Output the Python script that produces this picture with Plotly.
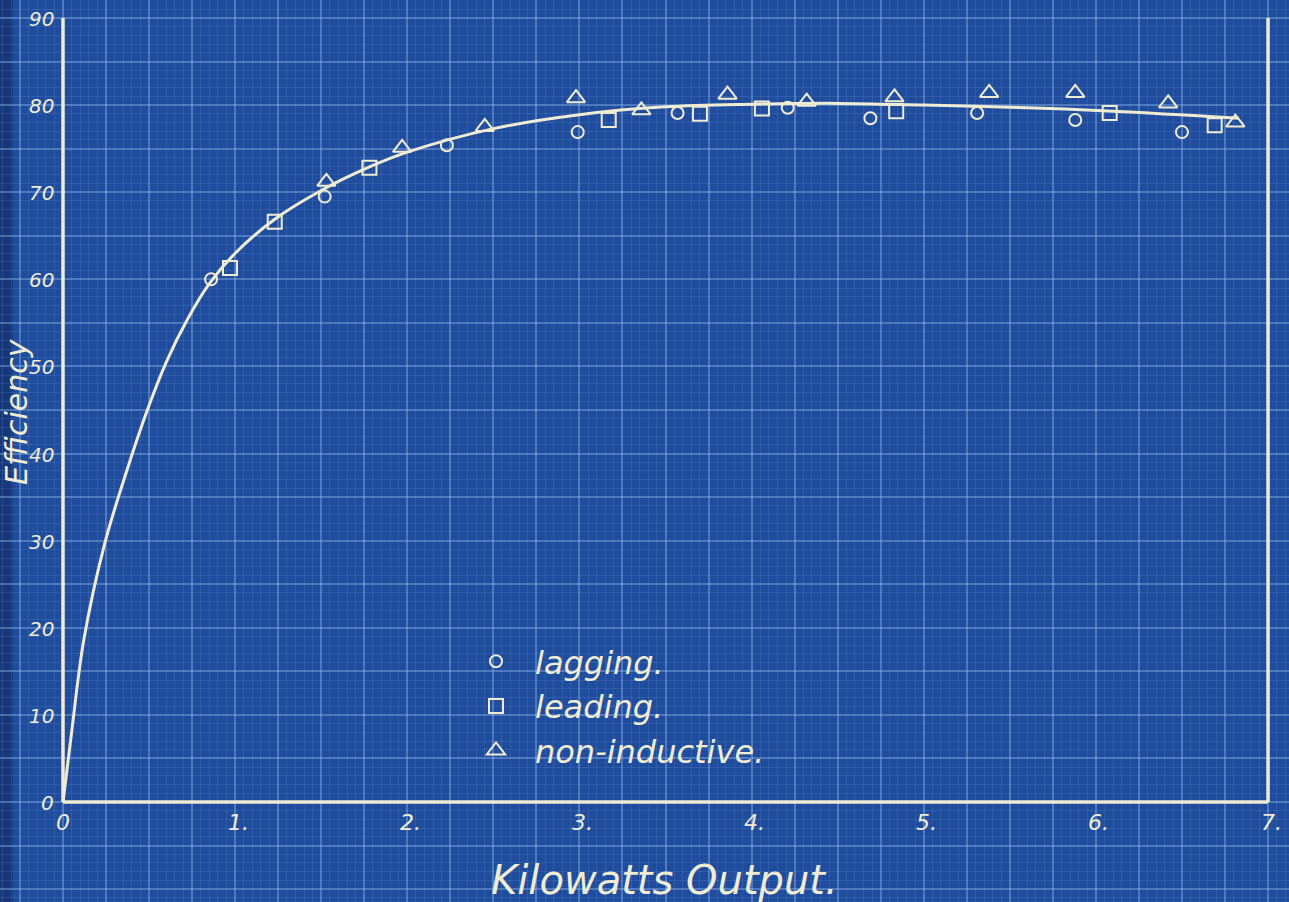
import plotly.graph_objects as go

# ---- data ----
lag_x = [0.86, 1.52, 2.23, 2.99, 3.57, 4.21, 4.69, 5.31, 5.88, 6.50]
lag_y = [60.0, 69.5, 75.4, 76.9, 79.1, 79.7, 78.5, 79.1, 78.3, 76.9]

lead_x = [0.97, 1.23, 1.78, 3.17, 3.70, 4.06, 4.84, 6.08, 6.69]
lead_y = [61.3, 66.6, 72.8, 78.3, 79.0, 79.6, 79.3, 79.1, 77.7]

noni_x = [1.53, 1.97, 2.45, 2.98, 3.36, 3.86, 4.32, 4.83, 5.38, 5.88, 6.42, 6.81]
noni_y = [71.2, 75.1, 77.5, 80.8, 79.4, 81.2, 80.4, 80.9, 81.4, 81.4, 80.2, 78.0]

curve_x = [0.0, 0.05, 0.12, 0.24, 0.37, 0.49, 0.60, 0.72, 0.85, 1.00, 1.23, 1.50,
           1.78, 2.00, 2.50, 3.00, 3.50, 4.00, 4.50, 5.00, 5.60, 6.10, 6.83]
curve_y = [0.0, 8.0, 18.5, 29.5, 38.0, 45.0, 50.5, 55.3, 59.5, 63.0, 66.9, 70.2,
           72.9, 74.6, 77.3, 78.9, 79.8, 80.1, 80.2, 80.0, 79.7, 79.3, 78.5]

x_tick_vals = [0, 1, 2, 3, 4, 5, 6, 7]
x_tick_text = ["0", "1.", "2.", "3.", "4.", "5.", "6.", "7."]
y_tick_vals = [0, 10, 20, 30, 40, 50, 60, 70, 80, 90]
y_tick_text = ["0", "10", "20", "30", "40", "50", "60", "70", "80", "90"]

legend_names = ["lagging.", "leading.", "non-inductive."]
x_title = "Kilowatts Output."
y_title = "Efficiency"

# ---- style ----
BG = "#1f4c9d"
CREAM = "#efecd3"
MAJOR = "rgba(150,190,240,0.40)"
MINOR = "rgba(130,170,230,0.17)"
FONT = "DejaVu Sans"

X_MIN, X_MAX = 0, 7
Y_MIN, Y_MAX = 0, 90

fig = go.Figure()

fig.add_trace(go.Scatter(
    x=curve_x, y=curve_y, mode="lines", line=dict(color=CREAM, width=3, shape="spline", smoothing=1.0),
    showlegend=False, hoverinfo="skip"))

fig.add_trace(go.Scatter(
    x=lag_x, y=lag_y, mode="markers", name=legend_names[0], legendgroup="a",
    marker=dict(symbol="circle-open", size=12, color=CREAM, line=dict(width=2, color=CREAM))))
fig.add_trace(go.Scatter(
    x=lead_x, y=lead_y, mode="markers", name=legend_names[1], legendgroup="b",
    marker=dict(symbol="square-open", size=14, color=CREAM, line=dict(width=2, color=CREAM))))
fig.add_trace(go.Scatter(
    x=noni_x, y=noni_y, mode="markers", name=legend_names[2], legendgroup="c",
    marker=dict(symbol="triangle-up-open", size=16, color=CREAM, line=dict(width=2, color=CREAM))))

# axis frame (left, bottom, right)
for (x0, y0, x1, y1) in [(X_MIN, Y_MIN, X_MIN, Y_MAX), (X_MIN, Y_MIN, X_MAX, Y_MIN), (X_MAX, Y_MIN, X_MAX, Y_MAX)]:
    fig.add_shape(type="line", x0=x0, y0=y0, x1=x1, y1=y1, xref="x", yref="y",
                  line=dict(color=CREAM, width=3.5), layer="above")

# darker left edge of the print
fig.add_shape(type="rect", x0=0, x1=0.010, y0=0, y1=1, xref="paper", yref="paper",
              fillcolor="rgba(10,30,80,0.45)", line=dict(width=0), layer="below")

ann = []
for v, t in zip(x_tick_vals, x_tick_text):
    ann.append(dict(x=v, y=0, xref="x", yref="y", text=t, showarrow=False, xanchor="center",
                    yanchor="top", yshift=-6, xshift=3 if t.endswith(".") else 0,
                    font=dict(family=FONT, size=22, color=CREAM, style="italic")))
for v, t in zip(y_tick_vals, y_tick_text):
    ann.append(dict(x=0, y=v, xref="x", yref="y", text=t, showarrow=False, xanchor="right",
                    yanchor="middle", xshift=-7, yshift=-1,
                    font=dict(family=FONT, size=20, color=CREAM, style="italic")))
ann.append(dict(x=664 / 1289, y=1 - 880 / 902, xref="paper", yref="paper", text=x_title, showarrow=False,
                xanchor="center", yanchor="middle",
                font=dict(family=FONT, size=40, color=CREAM, style="italic")))
ann.append(dict(x=16 / 1289, y=1 - 412 / 902, xref="paper", yref="paper", text=y_title, showarrow=False,
                xanchor="center", yanchor="middle", textangle=-90,
                font=dict(family=FONT, size=30, color=CREAM, style="italic")))

px_per_x = 172.15
px_per_y = 8.711
fig.update_layout(
    width=1289, height=902, autosize=False,
    margin=dict(l=0, r=0, t=0, b=0, pad=0),
    paper_bgcolor=BG, plot_bgcolor=BG,
    annotations=ann,
    showlegend=True,
    legend=dict(x=457 / 1289, y=1 - 634 / 902, xanchor="left", yanchor="top",
                bgcolor="rgba(0,0,0,0)", borderwidth=0, tracegroupgap=0, itemwidth=68,
                font=dict(family=FONT, size=32, color=CREAM, style="italic")),
    xaxis=dict(range=[-63 / px_per_x, (1289 - 63) / px_per_x], showticklabels=False, ticks="",
               zeroline=False, showline=False, tick0=0, dtick=0.25,
               showgrid=True, gridcolor=MAJOR, gridwidth=1.5,
               minor=dict(dtick=0.05, showgrid=True, gridcolor=MINOR, gridwidth=1, ticks="")),
    yaxis=dict(range=[-(902 - 802) / px_per_y, 802 / px_per_y], showticklabels=False, ticks="",
               zeroline=False, showline=False, tick0=0, dtick=5,
               showgrid=True, gridcolor=MAJOR, gridwidth=1.5,
               minor=dict(dtick=1, showgrid=True, gridcolor=MINOR, gridwidth=1, ticks="")),
)

fig.write_html("out.html", config=dict(displayModeBar=False))
